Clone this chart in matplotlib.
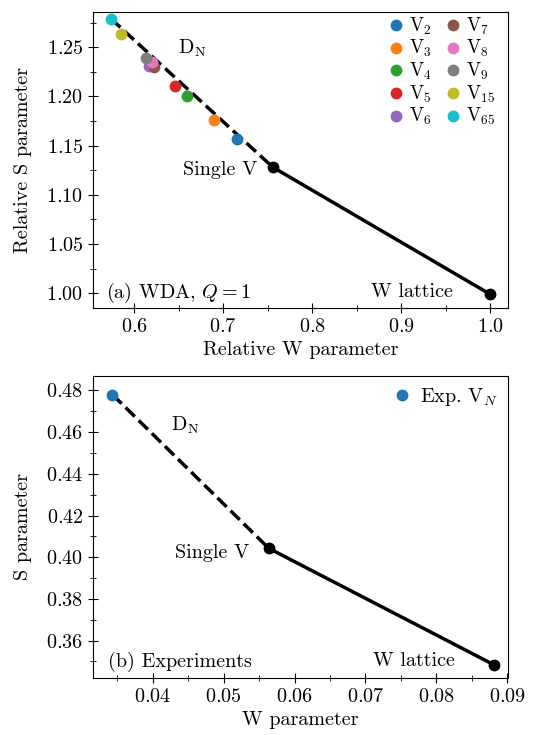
import matplotlib
matplotlib.use('Agg')
import matplotlib.pyplot as plt
from matplotlib.ticker import MultipleLocator

plt.rcParams['font.family'] = 'serif'
plt.rcParams['font.serif'] = ['cmr10', 'DejaVu Serif']
plt.rcParams['mathtext.fontset'] = 'cm'
plt.rcParams['axes.formatter.use_mathtext'] = True
plt.rcParams['font.size'] = 14.5

# (a) WDA, Q = 1 : relative W / S of vacancy clusters
vac_names = ['2', '3', '4', '5', '6', '7', '8', '9', '15', '65']
vac_w = [0.716, 0.690, 0.660, 0.646, 0.617, 0.622, 0.620, 0.613, 0.585, 0.574]
vac_s = [1.157, 1.176, 1.200, 1.211, 1.231, 1.230, 1.235, 1.239, 1.263, 1.279]
single_w, single_s = 0.756, 1.128
lattice_w, lattice_s = 1.0, 0.999

# (b) experiments
exp_w, exp_s = 0.0343, 0.478
exp_single_w, exp_single_s = 0.05635, 0.4043
exp_lattice_w, exp_lattice_s = 0.0882, 0.3483

colors = plt.get_cmap('tab10').colors
fs = 14.5

fig = plt.figure(figsize=(5.38, 7.35), dpi=100)
ax1 = fig.add_axes([0.173, 0.581, 0.771, 0.403])
ax2 = fig.add_axes([0.173, 0.0776, 0.771, 0.411])

# top panel
ax1.plot([vac_w[-1], single_w], [vac_s[-1], single_s], 'k--', lw=2.5, zorder=1)
ax1.plot([single_w, lattice_w], [single_s, lattice_s], 'k-', lw=2.5, zorder=1)
ax1.plot([single_w, lattice_w], [single_s, lattice_s], 'ko', ms=7.5, zorder=3)
for i, n in enumerate(vac_names):
    ax1.plot(vac_w[i], vac_s[i], 'o', color=colors[i], ms=7.5, ls='none',
             label=r'V$_{\mathrm{%s}}$' % n, zorder=2)
ax1.legend(loc='upper right', bbox_to_anchor=(0.98, 1.0), ncol=2, frameon=False,
           handletextpad=0.15, handlelength=1.1, columnspacing=0.6, labelspacing=0.08,
           fontsize=13.5, borderaxespad=0.1, borderpad=0.1)
ax1.text(0.649, 1.244, r'D$_\mathrm{N}$', fontsize=fs)
ax1.text(0.738, 1.120, 'Single V', ha='right', fontsize=fs)
ax1.text(0.958, 0.996, 'W lattice', ha='right', fontsize=fs)
ax1.text(0.03, 0.035, r'(a) WDA, $Q=1$', transform=ax1.transAxes, fontsize=fs)
ax1.set_xlim(0.554, 1.02)
ax1.set_ylim(0.985, 1.286)
ax1.xaxis.set_major_locator(MultipleLocator(0.1))
ax1.xaxis.set_minor_locator(MultipleLocator(0.05))
ax1.yaxis.set_major_locator(MultipleLocator(0.05))
ax1.yaxis.set_minor_locator(MultipleLocator(0.025))
ax1.set_xlabel('Relative W parameter')
ax1.set_ylabel('Relative S parameter', labelpad=10)

# bottom panel
ax2.plot([exp_w, exp_single_w], [exp_s, exp_single_s], 'k--', lw=2.5, zorder=1)
ax2.plot([exp_single_w, exp_lattice_w], [exp_single_s, exp_lattice_s], 'k-', lw=2.5, zorder=1)
ax2.plot([exp_single_w, exp_lattice_w], [exp_single_s, exp_lattice_s], 'ko', ms=7.5, zorder=3)
ax2.plot(exp_w, exp_s, 'o', color=colors[0], ms=7.5, ls='none', label=r'Exp. V$_N$', zorder=2)
ax2.legend(loc='upper right', frameon=False, handletextpad=0.3, handlelength=1.1,
           fontsize=fs, borderaxespad=0.3, borderpad=0.2)
ax2.text(0.0425, 0.4608, r'D$_\mathrm{N}$', fontsize=fs)
ax2.text(0.0536, 0.3998, 'Single V', ha='right', fontsize=fs)
ax2.text(0.0826, 0.3480, 'W lattice', ha='right', fontsize=fs)
ax2.text(0.035, 0.035, '(b) Experiments', transform=ax2.transAxes, fontsize=fs)
ax2.set_xlim(0.03156, 0.0901)
ax2.set_ylim(0.3421, 0.487)
ax2.xaxis.set_major_locator(MultipleLocator(0.01))
ax2.xaxis.set_minor_locator(MultipleLocator(0.005))
ax2.yaxis.set_major_locator(MultipleLocator(0.02))
ax2.yaxis.set_minor_locator(MultipleLocator(0.01))
ax2.set_xlabel('W parameter')
ax2.set_ylabel('S parameter', labelpad=10)

for ax in (ax1, ax2):
    ax.tick_params(which='both', direction='inout', top=False, right=False)
    ax.tick_params(which='major', length=7)
    ax.tick_params(which='minor', length=4)

fig.savefig('out.png', dpi=100)
